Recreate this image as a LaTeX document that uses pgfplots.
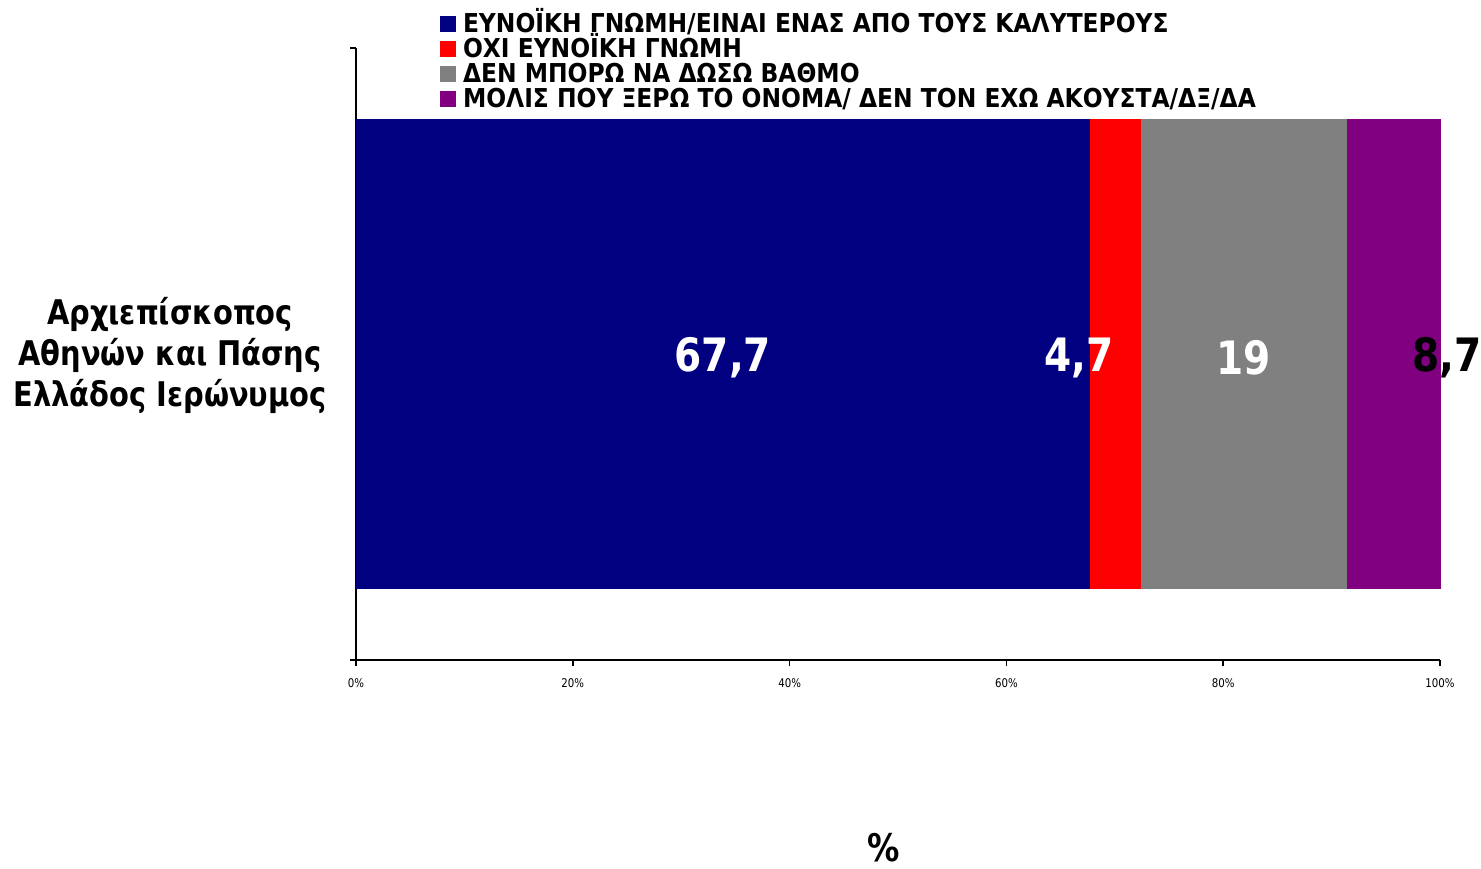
\documentclass[border=0pt]{standalone}
\usepackage{fontspec}
\setmainfont{DejaVu Sans}[FakeStretch=0.85]
\newfontfamily\legfont{DejaVu Sans}[FakeStretch=0.9]
\usepackage{pgfplots}
\pgfplotsset{compat=1.18}
\definecolor{cnavy}{RGB}{0,0,128}
\definecolor{cred}{RGB}{255,0,0}
\definecolor{cgray}{RGB}{128,128,128}
\definecolor{cpurple}{RGB}{128,0,128}
\begin{document}
\begin{tikzpicture}
\begin{axis}[
  scale only axis, width=542pt, height=306pt,
  xbar stacked, bar width=235pt,
  xmin=0, xmax=100, ymin=-0.5, ymax=0.5,
  clip=false,
  axis x line*=bottom, axis y line*=left,
  axis line style={line width=1pt, -},
  tick align=outside, major tick length=3pt,
  tick style={line width=0.8pt, black},
  xtick={0,20,40,60,80,100},
  xticklabels={0\%,20\%,40\%,60\%,80\%,100\%},
  xticklabel style={font=\fontsize{6}{6}\selectfont, yshift=-3pt},
  ytick={-0.5,0.5}, yticklabels={},
  xlabel={\%},
  xlabel style={at={(axis description cs:0.487,-0.306)}, anchor=center, font=\fontsize{19}{19}\selectfont\bfseries},
  ylabel={Αρχιεπίσκοπος\\Αθηνών και Πάσης\\Ελλάδος Ιερώνυμος},
  ylabel style={at={(axis description cs:-0.1716,0.497)}, anchor=center, rotate=-90, align=center, font=\fontsize{17}{20.5}\selectfont\bfseries},
  legend style={at={(axis description cs:0.0775,1.0628)}, anchor=north west, draw=none, fill=none,
    inner sep=0pt, outer sep=0pt, row sep=-1.75pt, cells={anchor=west},
    font=\legfont\fontsize{13}{13}\selectfont\bfseries,
    nodes={inner sep=0pt, text height=9.5pt, text depth=3pt}},
  legend image code/.code={\fill[#1] (0pt,-3.25pt) rectangle (8pt,4.75pt); \path (0pt,-3.5pt) (11.5pt,8pt);},
  nodes near coords={\pgfplotspointmeta},
  point meta=explicit symbolic,
  every node near coord/.append style={anchor=center, yshift=-2pt, font=\fontsize{23}{23}\selectfont\bfseries},
]
\addplot[fill=cnavy, draw=none, every node near coord/.append style={text=white}] coordinates {(67.7,0) [67{,}7]};
\addplot[fill=cred, draw=none, every node near coord/.append style={xshift=-18pt, text=white}] coordinates {(4.7,0) [4{,}7]};
\addplot[fill=cgray, draw=none, every node near coord/.append style={text=white}] coordinates {(19,0) [19]};
\addplot[fill=cpurple, draw=none, every node near coord/.append style={xshift=26.5pt, text=black}] coordinates {(8.7,0) [8{,}7]};
\legend{ΕΥΝΟΪΚΗ ΓΝΩΜΗ/ΕΙΝΑΙ ΕΝΑΣ ΑΠΟ ΤΟΥΣ ΚΑΛΥΤΕΡΟΥΣ,ΟΧΙ ΕΥΝΟΪΚΗ ΓΝΩΜΗ,ΔΕΝ ΜΠΟΡΩ ΝΑ ΔΩΣΩ ΒΑΘΜΟ,ΜΟΛΙΣ ΠΟΥ ΞΕΡΩ ΤΟ ΟΝΟΜΑ/ ΔΕΝ ΤΟΝ ΕΧΩ ΑΚΟΥΣΤΑ/ΔΞ/ΔΑ}
\coordinate (bl) at (rel axis cs:-0.3284,-0.3399);
\coordinate (tr) at (rel axis cs:1.0378,1.0784);
\end{axis}
\pgfresetboundingbox
\useasboundingbox (bl) rectangle (tr);
\end{tikzpicture}
\end{document}
